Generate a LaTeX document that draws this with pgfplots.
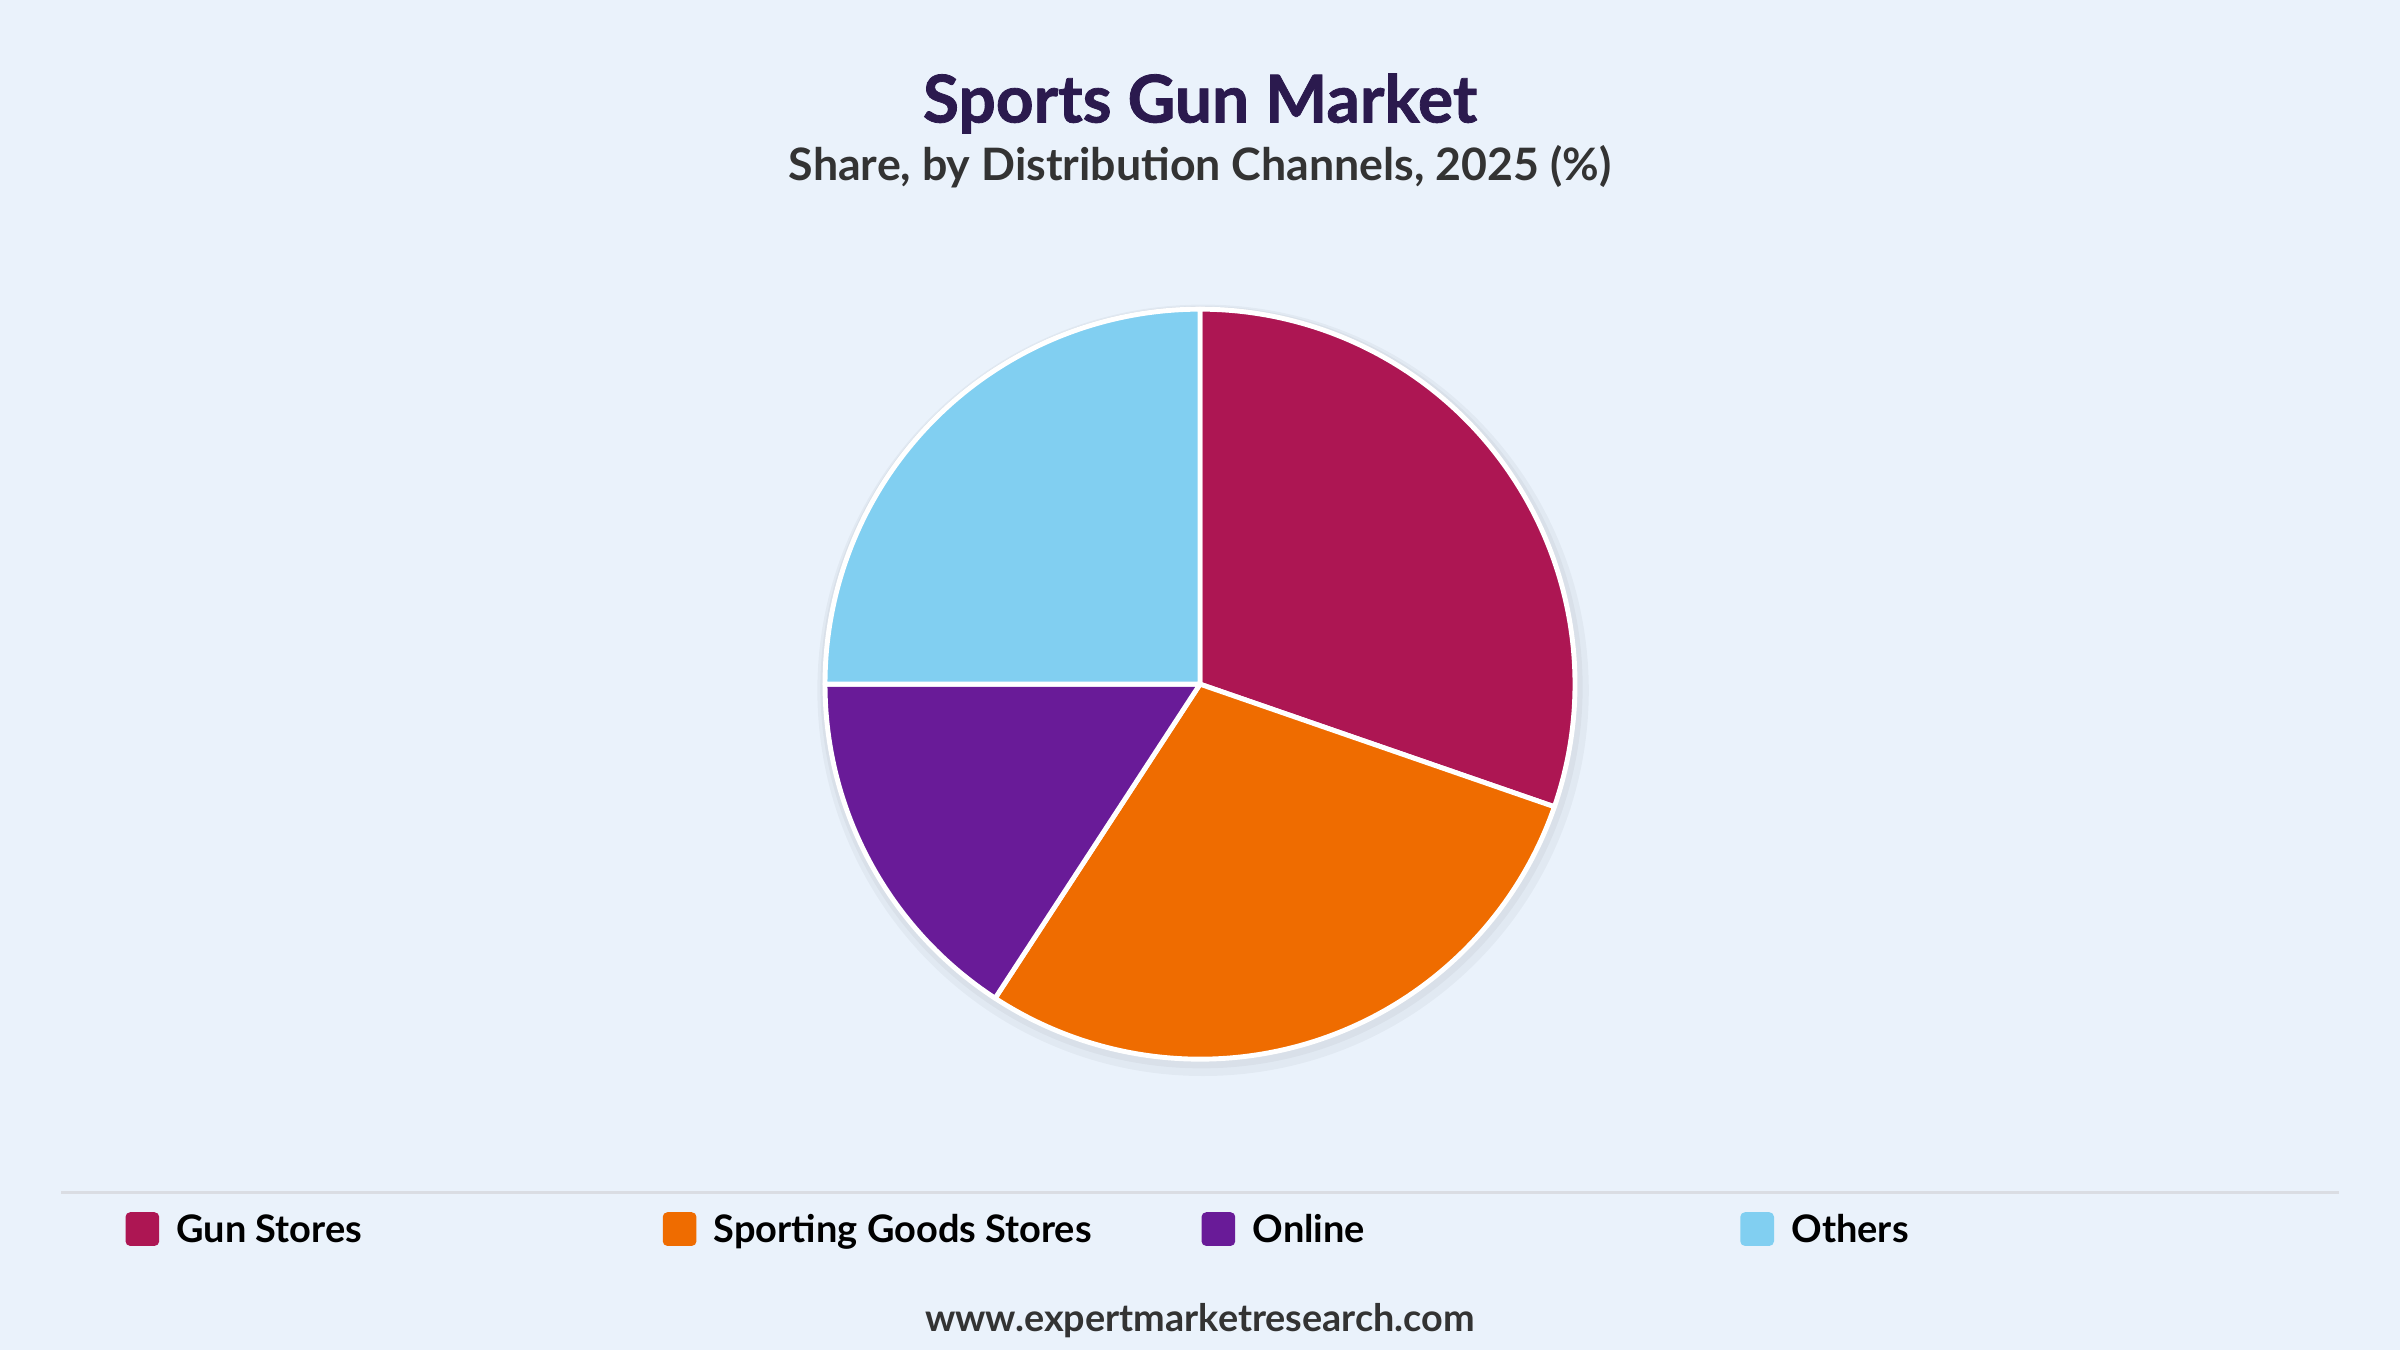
\documentclass[border=0pt]{standalone}
\usepackage{pgfplots}
\pgfplotsset{compat=1.18}
\usepackage{pgfplotstable}
\usepackage{fontspec}
\setmainfont{Lato}

\definecolor{bgc}{HTML}{EAF2FB}
\definecolor{titlec}{HTML}{2B1A4E}
\definecolor{subc}{HTML}{333333}
\definecolor{rulec}{HTML}{DADDE3}
\definecolor{c0}{HTML}{AD1653}
\definecolor{c1}{HTML}{EF6C00}
\definecolor{c2}{HTML}{691B98}
\definecolor{c3}{HTML}{81CFF1}

% share in %, clockwise from 12 o'clock
\pgfplotstableread{
channel share
GunStores 30.3
SportingGoods 28.9
Online 15.8
Others 25.0
}\piedata

\begin{document}
\begin{tikzpicture}
% slice angles from the table
\gdef\cum{0}
\foreach \i in {0,...,3}{
  \pgfplotstablegetelem{\i}{share}\of\piedata
  \pgfmathsetmacro\a{90-3.6*\cum}
  \pgfmathsetmacro\newcum{\cum+\pgfplotsretval}
  \pgfmathsetmacro\b{90-3.6*\newcum}
  \expandafter\xdef\csname sa\i\endcsname{\a}
  \expandafter\xdef\csname sb\i\endcsname{\b}
  \xdef\cum{\newcum}
}
\begin{axis}[
    x=1pt, y=1pt,
    xmin=0, xmax=784, ymin=0, ymax=441,
    hide axis, clip=false,
    at={(0,0)}, anchor=south west,
]
  \fill[bgc] (axis cs:0,0) rectangle (axis cs:784,441);

  % titles
  \node[anchor=base, font=\bfseries\fontsize{21.5}{24}\selectfont\addfontfeature{FakeBold=1.2}, text=titlec]
    at (axis cs:392,401) {Sports Gun Market};
  \node[anchor=base, font=\bfseries\fontsize{14.6}{16}\selectfont, text=subc]
    at (axis cs:392,382) {Share, by Distribution Channels, 2025 (\%)};

  % soft shadow
  \fill[black, opacity=0.035] (axis cs:393,215.5) circle[radius=126pt];
  \fill[black, opacity=0.035] (axis cs:392.5,216.5) circle[radius=124.5pt];

  % slices
  \pgfplotsinvokeforeach{0,...,3}{
    \filldraw[fill=c#1, draw=white, line width=1.6pt, line join=round]
      (axis cs:392,217.5) -- ++(\csname sa#1\endcsname:122.5pt)
      arc[start angle=\csname sa#1\endcsname, end angle=\csname sb#1\endcsname, radius=122.5pt]
      -- cycle;
  }

  % legend
  \draw[rulec, line width=1pt] (axis cs:20,51.5) -- (axis cs:764,51.5);
  \fill[c0, rounded corners=1.5pt] (axis cs:41,34) rectangle (axis cs:52,45);
  \fill[c1, rounded corners=1.5pt] (axis cs:216.5,34) rectangle (axis cs:227.5,45);
  \fill[c2, rounded corners=1.5pt] (axis cs:392.5,34) rectangle (axis cs:403.5,45);
  \fill[c3, rounded corners=1.5pt] (axis cs:568.5,34) rectangle (axis cs:579.5,45);
  \begin{scope}[every node/.style={anchor=base west, inner sep=0pt, font=\bfseries\fontsize{12.4}{14}\selectfont, text=black}]
    \node at (axis cs:57.5,35) {Gun Stores};
    \node at (axis cs:233,35) {Sporting Goods Stores};
    \node at (axis cs:409,35) {Online};
    \node at (axis cs:585,35) {Others};
  \end{scope}

  \node[anchor=base, font=\bfseries\fontsize{12.35}{14}\selectfont, text=subc]
    at (axis cs:392,6) {www.expertmarketresearch.com};
\end{axis}
\end{tikzpicture}
\end{document}
